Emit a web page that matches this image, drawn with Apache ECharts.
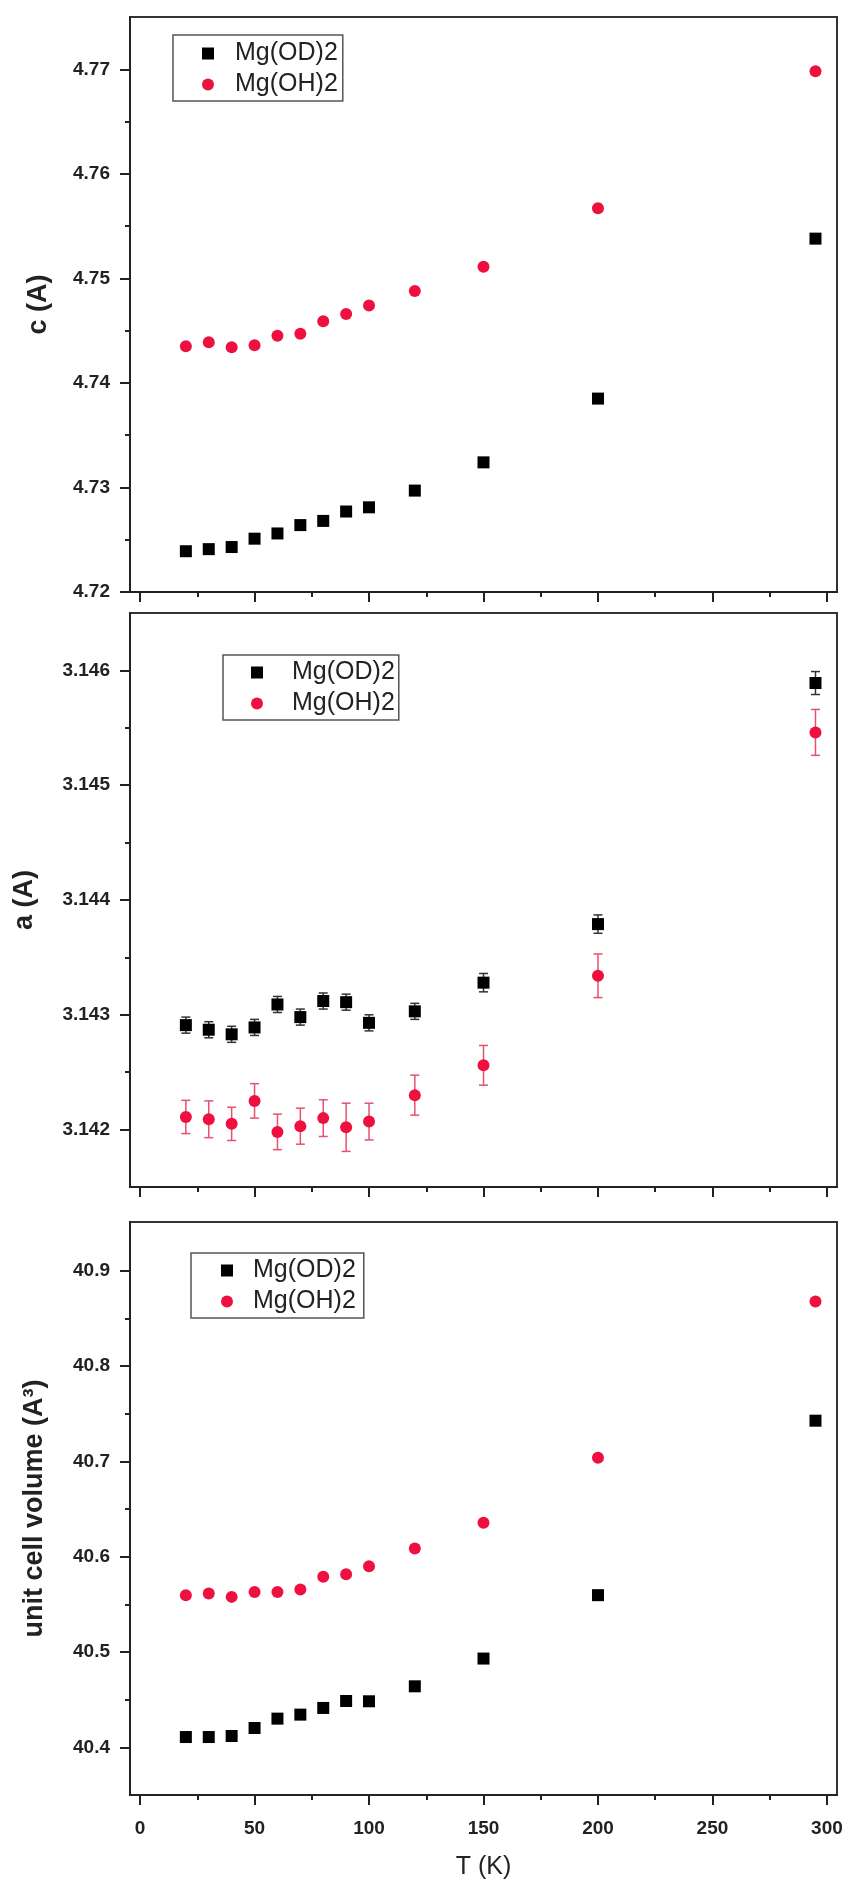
<!DOCTYPE html>
<html>
<head>
<meta charset="utf-8">
<script src="https://cdn.jsdelivr.net/npm/echarts@6/dist/echarts.min.js"></script>
<style>
  html, body { margin: 0; padding: 0; background: #ffffff; }
  #chart { width: 848px; height: 1888px; }
</style>
</head>
<body>
<div id="chart"></div>
<script>
// ---- data ----
const T = [20, 30, 40, 50, 60, 70, 80, 90, 100, 120, 150, 200, 295];
const cOD = [4.7239, 4.7241, 4.7243, 4.7251, 4.7256, 4.7264, 4.7268, 4.7277, 4.7281, 4.7297, 4.7324, 4.7385, 4.7538];
const cOH = [4.7435, 4.7439, 4.7434, 4.7436, 4.7445, 4.7447, 4.7459, 4.7466, 4.7474, 4.7488, 4.7511, 4.7567, 4.7698];
const aOD = [3.14291, 3.14287, 3.14283, 3.14289, 3.14309, 3.14298, 3.14312, 3.14311, 3.14293, 3.14303, 3.14328, 3.14379, 3.14589];
const aODerr = [0.00007, 0.00007, 0.00007, 0.00007, 0.00007, 0.00007, 0.00007, 0.00007, 0.00007, 0.00007, 0.00008, 0.00008, 0.0001];
const aOH = [3.14211, 3.14209, 3.14205, 3.14225, 3.14198, 3.14203, 3.14210, 3.14202, 3.14207, 3.14230, 3.14256, 3.14334, 3.14546];
const aOHerr = [0.000145, 0.00016, 0.000145, 0.00015, 0.000155, 0.000157, 0.00016, 0.00021, 0.00016, 0.000174, 0.000173, 0.00019, 0.0002];
const vOD = [40.4108, 40.4108, 40.4119, 40.4203, 40.4301, 40.4343, 40.4413, 40.4486, 40.4483, 40.464, 40.4931, 40.5596, 40.7426];
const vOH = [40.5596, 40.5614, 40.5578, 40.563, 40.563, 40.5656, 40.5788, 40.5816, 40.59, 40.6086, 40.6355, 40.7037, 40.8675];

const xMajor = [0, 50, 100, 150, 200, 250, 300];
const xMinor = [25, 75, 125, 175, 225, 275];
const cMajor = [4.72, 4.73, 4.74, 4.75, 4.76, 4.77];
const cMinor = [4.725, 4.735, 4.745, 4.755, 4.765];
const aMajor = [3.142, 3.143, 3.144, 3.145, 3.146];
const aMinor = [3.1425, 3.1435, 3.1445, 3.1455];
const vMajor = [40.4, 40.5, 40.6, 40.7, 40.8, 40.9];
const vMinor = [40.45, 40.55, 40.65, 40.75, 40.85];

const seriesNames = ['Mg(OD)2', 'Mg(OH)2'];
const yNames = ['c (A)', 'a (A)', 'unit cell volume (A\u00B3)'];
const xName = 'T (K)';

// ---- styling ----
const FONT = 'Liberation Sans, Arial, Helvetica, sans-serif';
const BLACK = '#000000';
const RED = '#ee1140';
const AXIS = '#222222';

const grids = [
  { left: 130, right: 11, top: 17, height: 575 },
  { left: 130, right: 11, top: 613, height: 574 },
  { left: 130, right: 11, top: 1222, height: 573 }
].map(g => Object.assign(g, { show: true, borderColor: '#333', borderWidth: 2, backgroundColor: 'transparent' }));

const yRanges = [
  { min: 4.72, max: 4.775, major: cMajor, minor: cMinor, dec: 2, gap: 78 },
  { min: 3.1415, max: 3.1465, major: aMajor, minor: aMinor, dec: 3, gap: 92 },
  { min: 40.35, max: 40.951, major: vMajor, minor: vMinor, dec: 1, gap: 82 }
];

const X_MIN = -4.4, X_MAX = 304.4;

const xAxes = [];
const yAxes = [];
for (let i = 0; i < 3; i++) {
  xAxes.push({
    type: 'value', gridIndex: i, position: 'bottom', min: X_MIN, max: X_MAX,
    axisLine: { show: true, onZero: false, lineStyle: { color: AXIS, width: 2 } },
    axisTick: { show: true, inside: false, length: 10, customValues: xMajor, lineStyle: { color: AXIS, width: 2 } },
    axisLabel: { show: i === 2, customValues: xMajor, margin: 24, fontSize: 19, fontWeight: 'bold', color: AXIS, fontFamily: FONT },
    splitLine: { show: false },
    name: i === 2 ? xName : '', nameLocation: 'middle', nameGap: 60,
    nameTextStyle: { fontSize: 25, color: AXIS, fontFamily: FONT }
  });
}
for (let i = 0; i < 3; i++) {
  xAxes.push({
    type: 'value', gridIndex: i, position: 'bottom', min: X_MIN, max: X_MAX,
    axisLine: { show: false, onZero: false },
    axisTick: { show: true, inside: false, length: 5, customValues: xMinor, lineStyle: { color: AXIS, width: 2 } },
    axisLabel: { show: false }, splitLine: { show: false }
  });
}
for (let i = 0; i < 3; i++) {
  const r = yRanges[i];
  yAxes.push({
    type: 'value', gridIndex: i, position: 'left', min: r.min, max: r.max,
    axisLine: { show: true, onZero: false, lineStyle: { color: AXIS, width: 2 } },
    axisTick: { show: true, inside: false, length: 10, customValues: r.major, lineStyle: { color: AXIS, width: 2 } },
    axisLabel: { show: true, customValues: r.major, margin: 20, fontSize: 19, fontWeight: 'bold', color: AXIS, fontFamily: FONT,
      formatter: v => Number(v).toFixed(r.dec) },
    splitLine: { show: false },
    name: yNames[i], nameLocation: 'middle', nameRotate: 90, nameGap: r.gap,
    nameTextStyle: { fontSize: 27, fontWeight: 'bold', color: AXIS, fontFamily: FONT }
  });
}
for (let i = 0; i < 3; i++) {
  const r = yRanges[i];
  yAxes.push({
    type: 'value', gridIndex: i, position: 'left', min: r.min, max: r.max,
    axisLine: { show: false, onZero: false },
    axisTick: { show: true, inside: false, length: 5, customValues: r.minor, lineStyle: { color: AXIS, width: 2 } },
    axisLabel: { show: false }, splitLine: { show: false }
  });
}

function scatter(name, idx, vals, symbol, color) {
  return {
    type: 'scatter', name: name, xAxisIndex: idx, yAxisIndex: idx,
    symbol: symbol, symbolSize: 12,
    itemStyle: { color: color, opacity: 1 },
    data: T.map((t, k) => [t, vals[k]]), z: 5
  };
}

function errorBars(name, idx, vals, errs, color, lw) {
  return {
    type: 'custom', name: name, xAxisIndex: idx, yAxisIndex: idx,
    encode: { x: 0, y: 1 },
    data: T.map((t, k) => [t, vals[k], errs[k]]),
    z: 3,
    renderItem: function (params, api) {
      const x = api.value(0), y = api.value(1), e = api.value(2);
      const top = api.coord([x, y + e]);
      const bot = api.coord([x, y - e]);
      const hw = 4.5;
      const st = { stroke: color, lineWidth: lw };
      return {
        type: 'group', children: [
          { type: 'line', shape: { x1: top[0], y1: top[1], x2: bot[0], y2: bot[1] }, style: st },
          { type: 'line', shape: { x1: top[0] - hw, y1: top[1], x2: top[0] + hw, y2: top[1] }, style: st },
          { type: 'line', shape: { x1: bot[0] - hw, y1: bot[1], x2: bot[0] + hw, y2: bot[1] }, style: st }
        ]
      };
    }
  };
}

const legendData = [{ name: seriesNames[0], icon: 'rect' }, { name: seriesNames[1], icon: 'circle' }];
function legend(left, top, padding, textPad) {
  return {
    orient: 'vertical', left: left, top: top, padding: padding, itemGap: 6,
    itemWidth: 12, itemHeight: 12, selectedMode: false,
    borderColor: '#555', borderWidth: 1.5, backgroundColor: 'transparent',
    textStyle: { fontSize: 25, color: AXIS, fontFamily: FONT, lineHeight: 24, padding: [0, 0, 0, textPad] },
    data: legendData
  };
}

const option = {
  animation: false,
  backgroundColor: '#ffffff',
  grid: grids,
  xAxis: xAxes,
  yAxis: yAxes,
  legend: [
    legend(173, 35, [6, 5, 4, 29], 16),
    legend(223, 655, [5, 4, 4, 28], 24),
    legend(191, 1253, [5, 8, 4, 30], 15)
  ],
  series: [
    scatter(seriesNames[0], 0, cOD, 'rect', BLACK),
    scatter(seriesNames[1], 0, cOH, 'circle', RED),
    errorBars('errOD', 1, aOD, aODerr, '#333', 1.5),
    errorBars('errOH', 1, aOH, aOHerr, '#e8506e', 1.5),
    scatter(seriesNames[0], 1, aOD, 'rect', BLACK),
    scatter(seriesNames[1], 1, aOH, 'circle', RED),
    scatter(seriesNames[0], 2, vOD, 'rect', BLACK),
    scatter(seriesNames[1], 2, vOH, 'circle', RED)
  ]
};

const chart = echarts.init(document.getElementById('chart'), null, { renderer: 'canvas' });
chart.setOption(option);
</script>
</body>
</html>
